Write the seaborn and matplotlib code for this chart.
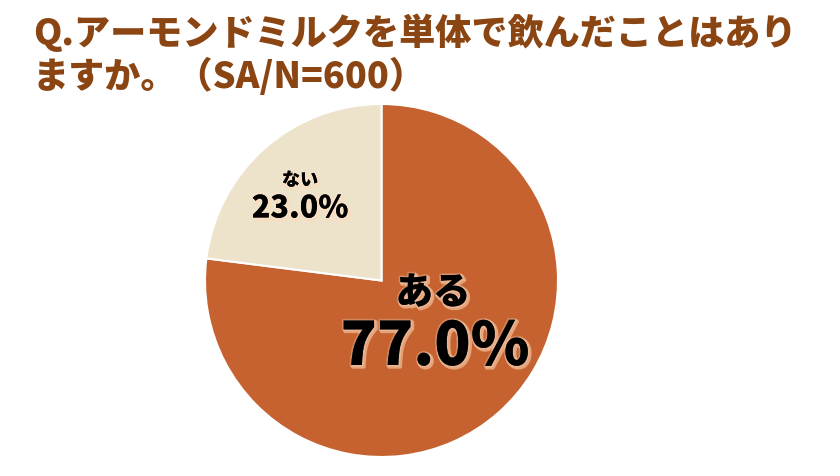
import matplotlib
matplotlib.use("Agg")
import matplotlib.pyplot as plt
import matplotlib.patheffects as pe
import seaborn as sns

categories = ["ある", "ない"]
values = [77.0, 23.0]
pct_labels = ["77.0%", "23.0%"]
title_lines = ["Q.アーモンドミルクを単体で飲んだことはあり", "ますか。（SA/N=600）"]

sns.set_theme(style="white")
plt.rcParams['font.family'] = ['Noto Sans CJK JP', 'DejaVu Sans']

colors = ["#C5622F", "#EDE3CB"]
title_color = "#8B4513"

fig = plt.figure(figsize=(8.4, 4.76), dpi=100)
fig.patch.set_facecolor("white")

cx, cy, r = 381.5, 280.5, 176.5
W, H = 840, 476
ax = fig.add_axes([(cx - r) / W, (H - cy - r) / H, 2 * r / W, 2 * r / H])
ax.pie(values, colors=colors, startangle=90, counterclock=False,
       wedgeprops=dict(edgecolor="white", linewidth=1.5))
ax.set_aspect("auto")
ax.set_xlim(-1, 1)
ax.set_ylim(-1, 1)
ax.axis("off")

glow = [pe.SimpleLineShadow(offset=(1.2, -1.2), shadow_color=(1, 0.85, 0.72), alpha=0.55, linewidth=3),
        pe.withStroke(linewidth=2.5, foreground=(1, 0.92, 0.85, 0.25))]

def figtext_px(x, y, s, **kw):
    fig.text(x / W, 1 - y / H, s, **kw)

figtext_px(33, 33, title_lines[0], fontsize=26, fontweight="black", color=title_color, va="center", ha="left")
figtext_px(33, 76, title_lines[1], fontsize=26, fontweight="black", color=title_color, va="center", ha="left")

figtext_px(433, 293, categories[0], fontsize=27, fontweight="black", color="black", ha="center", va="center", path_effects=glow)
figtext_px(435, 347, pct_labels[0], fontsize=43, fontweight="black", color="black", ha="center", va="center", path_effects=glow)
figtext_px(300, 180, categories[1], fontsize=13, fontweight="black", color="black", ha="center", va="center", path_effects=glow)
figtext_px(300, 208, pct_labels[1], fontsize=22, fontweight="black", color="black", ha="center", va="center", path_effects=glow)

fig.savefig("out.png", dpi=100, facecolor="white")
